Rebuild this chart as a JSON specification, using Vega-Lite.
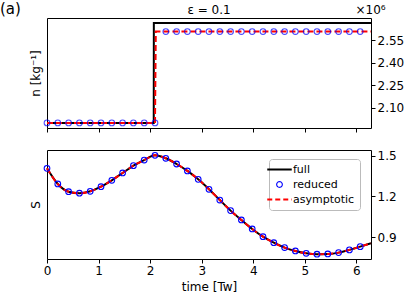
{
  "$schema": "https://vega.github.io/schema/vega-lite/v6.json",
  "padding": {"left": 0, "top": 1, "right": 0, "bottom": 0},
  "config": {
    "font": "DejaVu Sans",
    "view": {"stroke": "black", "strokeWidth": 1},
    "axis": {"grid": false, "domain": false, "tickColor": "black", "tickSize": 4, "labelColor": "black", "titleColor": "black", "labelFontSize": 12, "titleFontSize": 12, "titleFontWeight": "normal", "labelPadding": 2},
    "title": {"fontWeight": "normal", "color": "black"}
  },
  "title": {"text": "(a)", "anchor": "start", "frame": "group", "dx": -47, "fontSize": 15, "dy": 18},
  "resolve": {"scale": {"color": "independent"}, "legend": {"color": "independent"}},
  "datasets": {
    "ptsTop": [
      {"t": 0.0, "n": 2.0}, {"t": 0.2094, "n": 2.0}, {"t": 0.4189, "n": 2.0}, {"t": 0.6283, "n": 2.0}, {"t": 0.8378, "n": 2.0}, {"t": 1.0472, "n": 2.0}, {"t": 1.2566, "n": 2.0}, {"t": 1.4661, "n": 2.0}, {"t": 1.6755, "n": 2.0}, {"t": 1.885, "n": 2.0}, {"t": 2.0944, "n": 2.0},
      {"t": 2.3038, "n": 2.608}, {"t": 2.5133, "n": 2.608}, {"t": 2.7227, "n": 2.608}, {"t": 2.9322, "n": 2.608}, {"t": 3.1416, "n": 2.608}, {"t": 3.351, "n": 2.608}, {"t": 3.5605, "n": 2.608}, {"t": 3.7699, "n": 2.608}, {"t": 3.9794, "n": 2.608}, {"t": 4.1888, "n": 2.608}, {"t": 4.3982, "n": 2.608}, {"t": 4.6077, "n": 2.608}, {"t": 4.8171, "n": 2.608}, {"t": 5.0265, "n": 2.608}, {"t": 5.236, "n": 2.608}, {"t": 5.4454, "n": 2.608}, {"t": 5.6549, "n": 2.608}, {"t": 5.8643, "n": 2.608}, {"t": 6.0737, "n": 2.608}
    ],
    "fullTop": [
      {"t": 0.0, "n": 2.0}, {"t": 2.07, "n": 2.0}, {"t": 2.072, "n": 2.664}, {"t": 6.2832, "n": 2.664}
    ],
    "asymTop": [
      {"t": 0.0, "n": 2.0}, {"t": 2.0944, "n": 2.0}, {"t": 2.11, "n": 2.608}, {"t": 6.2832, "n": 2.608}
    ],
    "ptsS": [
      {"t": 0.0, "S": 1.407}, {"t": 0.2094, "S": 1.292}, {"t": 0.4189, "S": 1.235}, {"t": 0.6283, "S": 1.224}, {"t": 0.8378, "S": 1.238}, {"t": 1.0472, "S": 1.272}, {"t": 1.2566, "S": 1.319}, {"t": 1.4661, "S": 1.373}, {"t": 1.6755, "S": 1.427}, {"t": 1.885, "S": 1.468}, {"t": 2.0944, "S": 1.503},
      {"t": 2.3038, "S": 1.481}, {"t": 2.5133, "S": 1.439}, {"t": 2.7227, "S": 1.388}, {"t": 2.9322, "S": 1.326}, {"t": 3.1416, "S": 1.253}, {"t": 3.351, "S": 1.174}, {"t": 3.5605, "S": 1.096}, {"t": 3.7699, "S": 1.027}, {"t": 3.9794, "S": 0.961}, {"t": 4.1888, "S": 0.904}, {"t": 4.3982, "S": 0.86}, {"t": 4.6077, "S": 0.824}, {"t": 4.8171, "S": 0.799}, {"t": 5.0265, "S": 0.782}, {"t": 5.236, "S": 0.775}, {"t": 5.4454, "S": 0.777}, {"t": 5.6549, "S": 0.787}, {"t": 5.8643, "S": 0.807}, {"t": 6.0737, "S": 0.831}
    ],
    "lineS": [
      {"t": 0.0, "S": 1.407}, {"t": 0.2094, "S": 1.292}, {"t": 0.4189, "S": 1.235}, {"t": 0.6283, "S": 1.224}, {"t": 0.8378, "S": 1.238}, {"t": 1.0472, "S": 1.272}, {"t": 1.2566, "S": 1.319}, {"t": 1.4661, "S": 1.373}, {"t": 1.6755, "S": 1.427}, {"t": 1.885, "S": 1.468}, {"t": 2.0944, "S": 1.503},
      {"t": 2.3038, "S": 1.481}, {"t": 2.5133, "S": 1.439}, {"t": 2.7227, "S": 1.388}, {"t": 2.9322, "S": 1.326}, {"t": 3.1416, "S": 1.253}, {"t": 3.351, "S": 1.174}, {"t": 3.5605, "S": 1.096}, {"t": 3.7699, "S": 1.027}, {"t": 3.9794, "S": 0.961}, {"t": 4.1888, "S": 0.904}, {"t": 4.3982, "S": 0.86}, {"t": 4.6077, "S": 0.824}, {"t": 4.8171, "S": 0.799}, {"t": 5.0265, "S": 0.782}, {"t": 5.236, "S": 0.775}, {"t": 5.4454, "S": 0.777}, {"t": 5.6549, "S": 0.787}, {"t": 5.8643, "S": 0.807}, {"t": 6.0737, "S": 0.831}, {"t": 6.2832, "S": 0.856}
    ]
  },
  "vconcat": [
    {
      "width": 324,
      "height": 110,
      "title": {"text": "ε = 0.1", "fontSize": 12, "anchor": "middle", "offset": 4, "dy": 18},
      "resolve": {"axis": {"y": "independent"}},
      "layer": [
        {
          "data": {"name": "fullTop"},
          "mark": {"type": "line", "color": "black", "strokeWidth": 2, "clip": true},
          "encoding": {
            "x": {"field": "t", "type": "quantitative", "scale": {"domain": [0, 6.2832], "nice": false, "zero": false}, "axis": {"values": [0, 1, 2, 3, 4, 5, 6], "labels": false, "title": null}},
            "y": {"field": "n", "type": "quantitative", "scale": {"domain": [1.966, 2.698], "nice": false, "zero": false}, "axis": {"orient": "left", "labels": false, "ticks": false, "title": "n [kg⁻¹]", "titlePadding": 5}}
          }
        },
        {
          "data": {"name": "asymTop"},
          "mark": {"type": "line", "color": "red", "strokeWidth": 2, "strokeDash": [6, 3], "clip": true},
          "encoding": {
            "x": {"field": "t", "type": "quantitative"},
            "y": {"field": "n", "type": "quantitative", "axis": {"orient": "right", "values": [2.1, 2.25, 2.4, 2.55], "format": ".2f", "title": "×10⁶", "titleAngle": 0, "titleAlign": "left", "titleBaseline": "alphabetic", "titleX": -16, "titleY": -5}}
          }
        },
        {
          "data": {"name": "ptsTop"},
          "mark": {"type": "point", "shape": "circle", "filled": false, "color": "blue", "size": 32, "strokeWidth": 1.1},
          "encoding": {
            "x": {"field": "t", "type": "quantitative"},
            "y": {"field": "n", "type": "quantitative", "axis": null}
          }
        },
        {
          "mark": {"type": "rule", "color": "#999999", "strokeWidth": 1.5},
          "encoding": {"y": {"datum": 2.698, "type": "quantitative", "axis": null}}
        }
      ]
    },
    {
      "width": 324,
      "height": 109,
      "resolve": {"axis": {"y": "independent"}},
      "layer": [
        {
          "mark": {"type": "rule", "color": "#999999", "strokeWidth": 1.5},
          "encoding": {"y": {"datum": 1.5, "type": "quantitative", "scale": {"domain": [0.74, 1.542], "nice": false, "zero": false}, "axis": {"orient": "left", "labels": false, "ticks": false, "title": "S", "titlePadding": 5}}}
        },
        {
          "data": {"name": "lineS"},
          "mark": {"type": "line", "strokeWidth": 2, "interpolate": "monotone"},
          "encoding": {
            "x": {"field": "t", "type": "quantitative", "scale": {"domain": [0, 6.2832], "nice": false, "zero": false}, "axis": {"values": [0, 1, 2, 3, 4, 5, 6], "format": "d", "title": "time [Tw]", "titlePadding": 5, "labelFlush": false}},
            "y": {"field": "S", "type": "quantitative", "axis": {"orient": "right", "values": [0.9, 1.2, 1.5], "format": ".1f", "title": null}},
            "color": {"datum": "full", "type": "nominal", "scale": {"domain": ["full", "reduced", "asymptotic"], "range": ["black", "blue", "red"]},
              "legend": {"title": null, "orient": "none", "legendX": 222, "legendY": 9, "symbolType": "stroke", "symbolSize": 600, "symbolStrokeWidth": 2, "labelFontSize": 11, "labelOffset": 8, "rowPadding": 3, "padding": 5, "fillColor": "white", "strokeColor": "#bbbbbb", "cornerRadius": 3,
                "encode": {"symbols": {"update": {
                  "shape": {"signal": "datum.value === 'reduced' ? 'circle' : 'stroke'"},
                  "size": {"signal": "datum.value === 'reduced' ? 32 : 600"},
                  "strokeWidth": {"signal": "datum.value === 'reduced' ? 1.1 : 2"},
                  "strokeDash": {"signal": "datum.value === 'asymptotic' ? [5, 3] : [1, 0]"},
                  "fill": {"value": "transparent"},
                  "opacity": {"value": 1}
                }}}}}
          }
        },
        {
          "data": {"name": "lineS"},
          "mark": {"type": "line", "strokeWidth": 2, "strokeDash": [6, 3], "interpolate": "monotone"},
          "encoding": {
            "x": {"field": "t", "type": "quantitative"},
            "y": {"field": "S", "type": "quantitative", "axis": null},
            "color": {"datum": "asymptotic", "type": "nominal"}
          }
        },
        {
          "data": {"name": "ptsS"},
          "mark": {"type": "point", "shape": "circle", "filled": false, "size": 32, "strokeWidth": 1.1, "opacity": 1},
          "encoding": {
            "x": {"field": "t", "type": "quantitative"},
            "y": {"field": "S", "type": "quantitative", "axis": null},
            "color": {"datum": "reduced", "type": "nominal"}
          }
        }
      ]
    }
  ],
  "spacing": 22,
  "bounds": "flush"
}
